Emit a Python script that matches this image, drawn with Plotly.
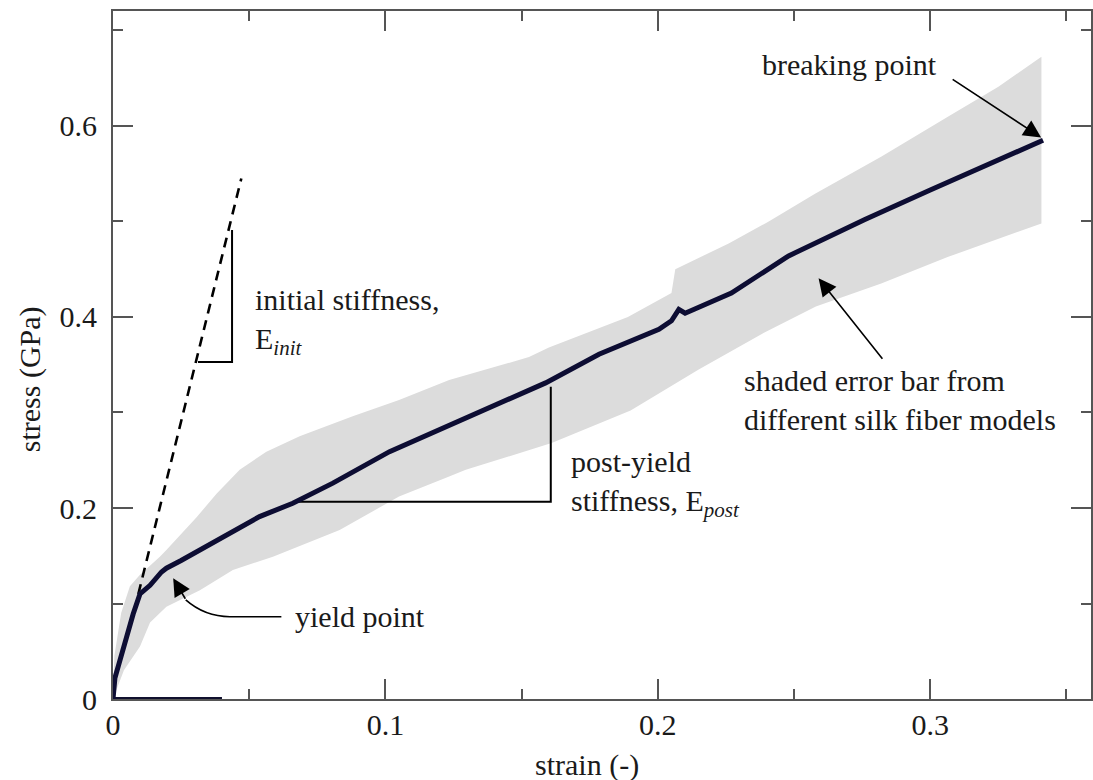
import plotly.graph_objects as go

# ---- data ----
strain_mean = [0, 0.0007, 0.002, 0.0038, 0.0074, 0.0099, 0.0136, 0.0178, 0.0196, 0.025, 0.0319,
               0.042, 0.0538, 0.066, 0.0807, 0.1015, 0.1234, 0.1418, 0.1588, 0.1784, 0.2004,
               0.205, 0.2077, 0.21, 0.227, 0.248, 0.276, 0.300, 0.325, 0.3414]
stress_mean = [0, 0.022, 0.035, 0.054, 0.089, 0.110, 0.119, 0.133, 0.137, 0.145, 0.156,
               0.172, 0.191, 0.205, 0.226, 0.259, 0.286, 0.309, 0.331, 0.361, 0.387,
               0.396, 0.408, 0.404, 0.425, 0.464, 0.502, 0.533, 0.564, 0.585]

upper_strain = [0, 0.0005, 0.003, 0.0062, 0.0099, 0.0172, 0.0196, 0.0306, 0.038, 0.0465, 0.0563,
                0.0685, 0.088, 0.105, 0.1234, 0.1527, 0.16, 0.189, 0.205, 0.2064, 0.21, 0.226,
                0.2407, 0.2577, 0.2821, 0.3066, 0.325, 0.3408]
upper_stress = [0, 0.045, 0.09, 0.118, 0.130, 0.149, 0.156, 0.190, 0.215, 0.240, 0.259,
                0.275, 0.296, 0.313, 0.334, 0.358, 0.368, 0.400, 0.425, 0.450, 0.455, 0.477,
                0.500, 0.529, 0.568, 0.610, 0.641, 0.6725]

lower_strain = [0, 0.004, 0.0099, 0.0136, 0.0196, 0.0319, 0.044, 0.0587, 0.0832, 0.105, 0.1234,
                0.1295, 0.161, 0.19, 0.215, 0.238, 0.258, 0.282, 0.3066, 0.3408]
lower_stress = [0, 0.03, 0.055, 0.08, 0.0966, 0.114, 0.135, 0.149, 0.177, 0.212, 0.233,
                0.240, 0.268, 0.302, 0.345, 0.382, 0.411, 0.435, 0.463, 0.498]

baseline_strain = [0, 0.04]
baseline_stress = [0, 0]

init_tangent_strain = [0.0093, 0.0471]
init_tangent_stress = [0.110, 0.545]

init_bracket_strain = [0.0312, 0.0437, 0.0437]
init_bracket_stress = [0.353, 0.353, 0.491]

post_bracket_strain = [0.0667, 0.1607, 0.1607]
post_bracket_stress = [0.2066, 0.2066, 0.327]

x_ticks = [0, 0.1, 0.2, 0.3]
x_ticklabels = ["0", "0.1", "0.2", "0.3"]
y_ticks = [0, 0.2, 0.4, 0.6]
y_ticklabels = ["0", "0.2", "0.4", "0.6"]

FONT = "Liberation Serif"
FS = 30

fig = go.Figure()

# shaded error band
fig.add_trace(go.Scatter(
    x=lower_strain + upper_strain[::-1],
    y=lower_stress + upper_stress[::-1],
    fill="toself", fillcolor="#dcdcdc", line=dict(width=0, color="#dcdcdc"),
    mode="lines", hoverinfo="skip", showlegend=False))

# initial tangent (dashed)
fig.add_trace(go.Scatter(x=init_tangent_strain, y=init_tangent_stress, mode="lines",
                         line=dict(color="black", width=2.6, dash="10px,7px"), showlegend=False))

# stiffness brackets
fig.add_trace(go.Scatter(x=init_bracket_strain, y=init_bracket_stress, mode="lines",
                         line=dict(color="black", width=2), showlegend=False))
fig.add_trace(go.Scatter(x=post_bracket_strain, y=post_bracket_stress, mode="lines",
                         line=dict(color="black", width=2), showlegend=False))

# baseline segment
fig.add_trace(go.Scatter(x=baseline_strain, y=baseline_stress, mode="lines",
                         line=dict(color="#10102e", width=4), showlegend=False, cliponaxis=False))

# mean curve
fig.add_trace(go.Scatter(x=strain_mean, y=stress_mean, mode="lines",
                         line=dict(color="#0d0d33", width=5), showlegend=False, cliponaxis=False))

# curved arrow for yield point
fig.add_shape(type="path", xref="x", yref="y",
              path="M 0.0618,0.0862 L 0.0429,0.0862 Q 0.0337,0.0862 0.0267,0.1037",
              line=dict(color="black", width=1.6))

annots = []
arrow_style = dict(xref="x", yref="y", text="", showarrow=True, arrowhead=2,
                   arrowsize=2.2, arrowwidth=1.6, arrowcolor="black", standoff=0)
annots.append(dict(x=0.0221, y=0.1264, ax=13, ay=22, **arrow_style))
annots.append(dict(x=0.3407, y=0.588, ax=-90, ay=-59, **arrow_style))
annots.append(dict(x=0.259, y=0.4405, ax=65, ay=82, **arrow_style))

def label(x, y, text):
    return dict(x=x, y=y, xref="x", yref="y", text=text, showarrow=False,
                xanchor="left", yanchor="middle", align="left",
                font=dict(family=FONT, size=FS, color="#1a1a1a"))

annots.append(label(0.0513, 0.395, "initial stiffness,<br>E<sub><i>init</i></sub>"))
annots.append(label(0.1674, 0.226, "post-yield<br>stiffness, E<sub><i>post</i></sub>"))
annots.append(label(0.0659, 0.0859, "yield point"))
annots.append(label(0.2374, 0.664, "breaking point"))
annots.append(label(0.2308, 0.313, "shaded error bar from<br>different silk fiber models"))

# axis titles
annots.append(dict(x=0.485, y=-0.096, xref="paper", yref="paper", text="strain (-)",
                   showarrow=False, xanchor="center", yanchor="middle",
                   font=dict(family=FONT, size=FS, color="#1a1a1a")))
annots.append(dict(x=-0.0847, y=0.465, xref="paper", yref="paper", text="stress (GPa)",
                   showarrow=False, xanchor="center", yanchor="middle", textangle=-90,
                   font=dict(family=FONT, size=FS, color="#1a1a1a")))

axis_common = dict(showgrid=False, zeroline=False, showline=True, linecolor="#555555",
                   linewidth=2, mirror="ticks", ticks="inside", ticklen=20, tickwidth=2,
                   tickcolor="#555555",
                   tickfont=dict(family=FONT, size=FS, color="#1a1a1a"))

fig.update_layout(
    width=1093, height=780,
    margin=dict(l=113, r=0, t=11, b=81),
    paper_bgcolor="white", plot_bgcolor="white",
    annotations=annots,
    xaxis=dict(range=[0, 0.359], tickvals=x_ticks, ticktext=x_ticklabels,
               minor=dict(dtick=0.05, tick0=0, ticklen=10, tickwidth=2, tickcolor="#555555",
                          ticks="inside", showgrid=False),
               ticklabelstandoff=-2, **axis_common),
    yaxis=dict(range=[0, 0.7204], tickvals=y_ticks, ticktext=y_ticklabels,
               minor=dict(dtick=0.1, tick0=0, ticklen=10, tickwidth=2, tickcolor="#555555",
                          ticks="inside", showgrid=False),
               ticklabelstandoff=8, **axis_common),
)

fig.write_html("out.html")
